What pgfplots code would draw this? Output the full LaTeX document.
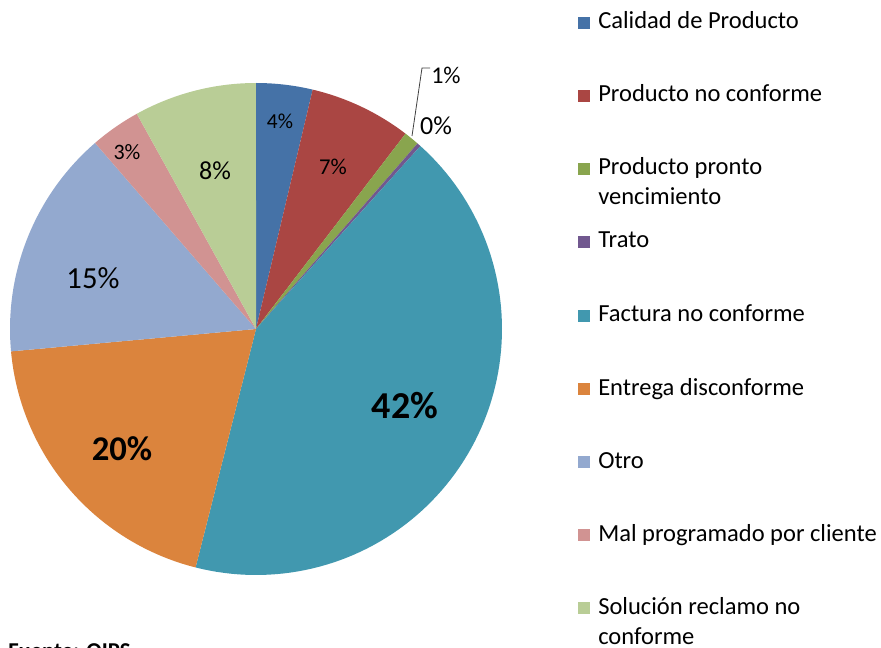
\documentclass[border=0pt]{standalone}
\usepackage{pgfplots}
\pgfplotsset{compat=1.18}
\usepackage{fontspec}
\setmainfont{Carlito}

\definecolor{cCal}{HTML}{4572A7}
\definecolor{cPnc}{HTML}{AA4643}
\definecolor{cPpv}{HTML}{89A54E}
\definecolor{cTra}{HTML}{71588F}
\definecolor{cFac}{HTML}{4198AF}
\definecolor{cEnt}{HTML}{DB843D}
\definecolor{cOtr}{HTML}{93A9CF}
\definecolor{cMal}{HTML}{D19392}
\definecolor{cSol}{HTML}{B9CD96}

% pie: centre (256,329) px, radius 246 px, clockwise from top
% #1 colour, #2 cumulative share before the slice (%), #3 share (%)
\newcommand{\slice}[3]{%
  \addplot[fill=#1, draw=none, domain={3.6*#2}:{3.6*(#2+#3)}, samples=90]
    ({256+246*sin(x)},{329-246*cos(x)}) -- (256,329) -- cycle;}

% legend entry: #1 colour, #2 baseline y of first line (px), #3 text
\newcommand{\legitem}[3]{%
  \fill[#1] (578,#2-12) rectangle (590,#2);
  \node[anchor=base west, inner sep=0pt,
        font=\fontsize{18.4}{22.5}\selectfont] at (598,#2)
        {\parbox[t]{215pt}{\raggedright #3}};}

\begin{document}
\begin{tikzpicture}
\begin{axis}[
  width=660.75pt, height=486pt, scale only axis,
  xmin=0, xmax=881, ymin=0, ymax=648, y dir=reverse,
  hide axis, clip=false,
]
% shares in percent
\slice{cCal}{0}{3.7}
\slice{cPnc}{3.7}{6.7}
\slice{cPpv}{10.4}{1.0}
\slice{cTra}{11.4}{0.25}
\slice{cFac}{11.65}{42.3}
\slice{cEnt}{53.95}{19.6}
\slice{cOtr}{73.55}{15.1}
\slice{cMal}{88.65}{3.3}
\slice{cSol}{91.95}{8.05}

% data labels
\node[font=\fontsize{16}{18}\selectfont] at (280,121) {4\%};
\node[font=\fontsize{17}{19}\selectfont] at (333,167) {7\%};
\node[font=\fontsize{19.5}{21}\selectfont] at (436,126) {0\%};
\node[font=\fontsize{18}{20}\selectfont, anchor=west, inner sep=0pt] at (431,75) {1\%};
\draw[black!75, line width=0.6pt] (412,136) -- (422,68) -- (430,68);
\node[font=\bfseries\fontsize{28.5}{30}\selectfont] at (405,406) {42\%};
\node[font=\bfseries\fontsize{26}{28}\selectfont] at (122,449) {20\%};
\node[font=\fontsize{23}{25}\selectfont] at (93,278) {15\%};
\node[font=\fontsize{16.5}{18}\selectfont] at (127,152) {3\%};
\node[font=\fontsize{19.5}{21}\selectfont] at (215,171) {8\%};

% legend
\legitem{cCal}{29}{Calidad de Producto}
\legitem{cPnc}{102}{Producto no conforme}
\legitem{cPpv}{175}{Producto pronto\\vencimiento}
\legitem{cTra}{248}{Trato}
\legitem{cFac}{322}{Factura no conforme}
\legitem{cEnt}{395}{Entrega disconforme}
\legitem{cOtr}{468}{Otro}
\legitem{cMal}{541}{Mal programado por cliente}
\legitem{cSol}{614}{Solución reclamo no\\conforme}

% source note, cut off by the lower edge as in the original
\node[anchor=base west, inner sep=0pt, font=\bfseries\fontsize{17}{19}\selectfont] at (8,658) {Fuente: QIPS};
\end{axis}
\pgfresetboundingbox
\path[use as bounding box] (current axis.south west) rectangle (current axis.north east);
\end{tikzpicture}
\end{document}
